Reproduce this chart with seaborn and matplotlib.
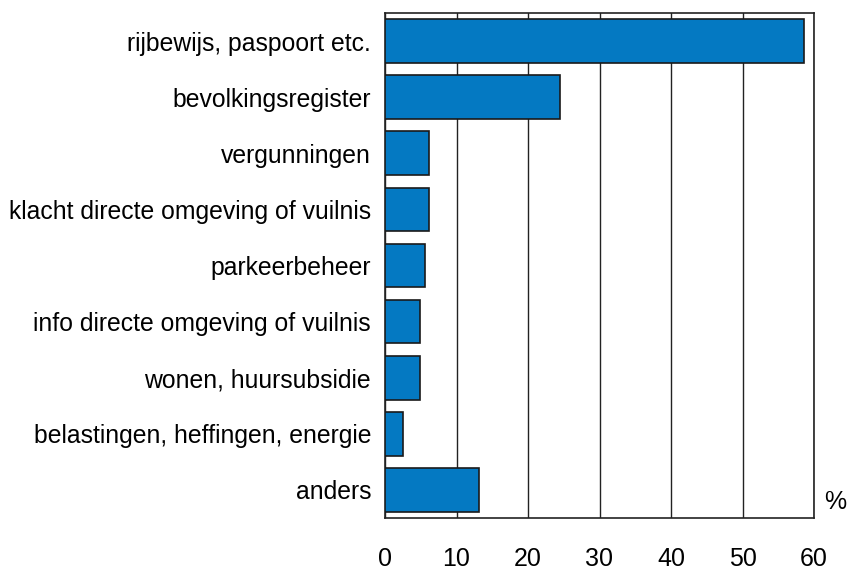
import matplotlib
matplotlib.use("Agg")
import matplotlib.pyplot as plt
import seaborn as sns
import pandas as pd

categories = [
    "rijbewijs, paspoort etc.",
    "bevolkingsregister",
    "vergunningen",
    "klacht directe omgeving of vuilnis",
    "parkeerbeheer",
    "info directe omgeving of vuilnis",
    "wonen, huursubsidie",
    "belastingen, heffingen, energie",
    "anders",
]
percentages = [58.6, 24.5, 6.2, 6.1, 5.6, 4.9, 4.9, 2.5, 13.2]
x_ticks = [0, 10, 20, 30, 40, 50, 60]

df = pd.DataFrame({"categorie": categories, "pct": percentages})

sns.set_style("white")
plt.rcParams["font.family"] = ["Liberation Sans", "DejaVu Sans"]
plt.rcParams["text.color"] = "black"

fig = plt.figure(figsize=(8.5, 5.7), dpi=100)
ax = fig.add_axes([385 / 850, 1 - 518 / 570, 429 / 850, 505 / 570])

sns.barplot(data=df, x="pct", y="categorie", orient="h", color="#0479C2",
            saturation=1, width=0.78, edgecolor="#1a1a1a", linewidth=1.2,
            ax=ax, zorder=3)

ax.set_xlim(0, 60)
ax.set_ylim(len(categories) - 0.5, -0.5)
ax.set_xticks(x_ticks)
ax.set_xticklabels([str(t) for t in x_ticks], fontsize=18)
ax.tick_params(axis="x", length=0, pad=21, labelcolor="black")
ax.tick_params(axis="y", length=0, pad=10, labelsize=17.8, labelcolor="black")
ax.grid(axis="x", color="#222222", linewidth=1, zorder=0)
ax.grid(axis="y", visible=False)
ax.set_axisbelow(True)
for s in ax.spines.values():
    s.set_color("#222222")
    s.set_linewidth(1.2)
    s.set_visible(True)
ax.set_xlabel("")
ax.set_ylabel("")

fig.text(835 / 850, 1 - 502 / 570, "%", fontsize=18, ha="center", va="center")

fig.savefig("out.png", dpi=100)
